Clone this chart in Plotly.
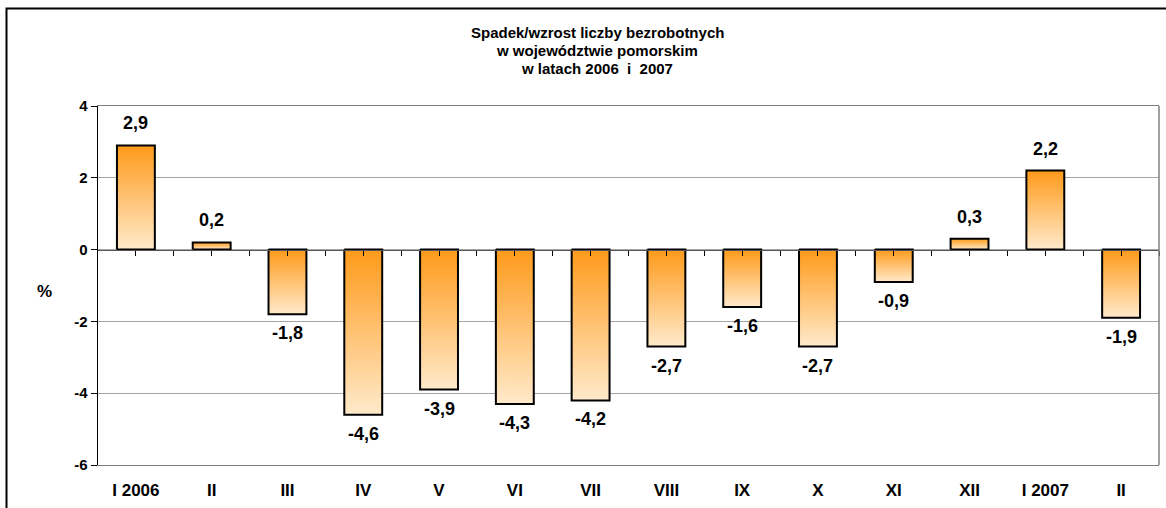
import plotly.graph_objects as go

categories = ["I 2006", "II", "III", "IV", "V", "VI", "VII", "VIII", "IX", "X", "XI", "XII", "I 2007", "II"]
values = [2.9, 0.2, -1.8, -4.6, -3.9, -4.3, -4.2, -2.7, -1.6, -2.7, -0.9, 0.3, 2.2, -1.9]
y_ticks = [-6, -4, -2, 0, 2, 4]
y_ticktext = ["-6", "-4", "-2", "0", "2", "4"]
title_lines = ["Spadek/wzrost liczby bezrobotnych", "w województwie pomorskim", "w latach 2006  i  2007"]

DARK = "#FF9A1A"
LIGHT = "#FFEACB"
FONT = "Liberation Sans, Arial, sans-serif"
half = 0.25

fig = go.Figure()
for i, v in enumerate(values):
    lo, hi = min(0, v), max(0, v)
    fig.add_trace(go.Scatter(
        x=[i - half, i + half, i + half, i - half, i - half],
        y=[0, 0, v, v, 0],
        mode="lines", fill="toself",
        fillgradient=dict(type="vertical", colorscale=[[0, LIGHT], [1, DARK]], start=lo, stop=hi),
        line=dict(color="black", width=2),
        hoverinfo="skip", showlegend=False,
    ))

# dummy trace to activate the zero-crossing axis
fig.add_trace(go.Scatter(x=[0], y=[0], xaxis="x2", mode="markers",
                         marker=dict(opacity=0), hoverinfo="skip", showlegend=False))

annotations = []
for i, v in enumerate(values):
    annotations.append(dict(
        x=i, y=v, xref="x", yref="y", text=f"{v:.1f}".replace(".", ","),
        showarrow=False, xanchor="center", yanchor="middle",
        yshift=22 if v >= 0 else -19,
        font=dict(size=18, weight="bold", color="black"),
    ))

# title lines (reference line centres at roughly y = 33, 50.5, 68 px; plot from 106 to 465 px)
for k, line in enumerate(title_lines):
    ypx = 33 + 17.5 * k
    annotations.append(dict(
        text=line, xref="paper", yref="paper",
        x=(597 - 98) / 1061, y=(465 - ypx) / 359,
        xanchor="center", yanchor="middle", showarrow=False,
        font=dict(size=15, weight="bold"),
    ))

annotations.append(dict(text="%", xref="paper", yref="paper", x=(44 - 98) / 1061, y=0.482,
                        xanchor="center", yanchor="middle", showarrow=False,
                        font=dict(size=17, weight="bold")))

fig.update_layout(
    width=1166, height=508,
    margin=dict(l=98, r=7, t=106, b=43),
    paper_bgcolor="white", plot_bgcolor="white",
    font=dict(family=FONT, color="black"),
    hovermode=False,
    xaxis=dict(
        range=[-0.5, len(categories) - 0.5],
        tickvals=list(range(len(categories))), ticktext=categories,
        tickfont=dict(size=17, weight="bold"),
        ticks="", ticklabelstandoff=10,
        showgrid=False, zeroline=False,
        showline=True, linecolor="#808080", linewidth=1, mirror=True,
    ),
    xaxis2=dict(
        overlaying="x", anchor="free", position=0.6, side="bottom",
        range=[-0.5, len(categories) - 0.5],
        tickvals=[k * 0.5 for k in range(2 * len(categories) + 1)],
        showticklabels=False, ticks="outside", ticklen=5, tickcolor="black", tickwidth=1,
        showgrid=False, zeroline=False,
        showline=True, linecolor="#555555", linewidth=1.5,
    ),
    yaxis=dict(
        range=[-6, 4], tickvals=y_ticks, ticktext=y_ticktext,
        tickfont=dict(size=15, weight="bold"),
        ticks="outside", ticklen=6, tickcolor="black",
        showgrid=True, gridcolor="#A6A6A6", gridwidth=1,
        zeroline=False,
        showline=True, linecolor="black", linewidth=1.5,
    ),
    shapes=[
        dict(type="line", xref="paper", yref="paper", x0=1, x1=1, y0=0, y1=1,
             line=dict(color="#808080", width=1.5)),
        dict(type="rect", xref="paper", yref="paper",
             x0=(6.5 - 98) / 1061, x1=1.05, y0=-0.3, y1=(465 - 8.5) / 359,
             line=dict(color="black", width=2), fillcolor="rgba(0,0,0,0)", layer="below"),
    ],
    annotations=annotations,
)

fig.write_html("out.html", config={"displayModeBar": False, "staticPlot": True},
               post_script="document.body.style.margin='0';document.body.style.overflow='hidden';")
